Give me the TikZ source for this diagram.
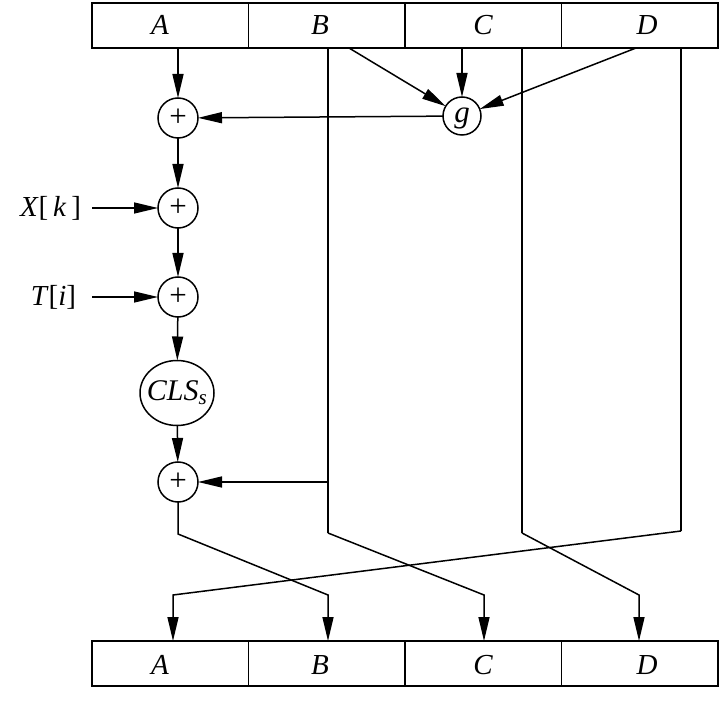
\documentclass[tikz,border=0pt]{standalone}
\usepackage{fontspec}
\setmainfont{Liberation Serif}
\usetikzlibrary{arrows.meta,calc,shapes.geometric}
\begin{document}
\begin{tikzpicture}[x=1pt,y=-1pt,
  every node/.style={inner sep=0pt,outer sep=0pt},
  cell/.style={draw,line width=1.5pt,minimum width=156.5pt,minimum height=45pt},
  lbl/.style={font=\fontsize{29}{32}\selectfont\itshape},
  opc/.style={draw,circle,line width=1.5pt,minimum size=40pt,font=\fontsize{31}{32}\selectfont},
  arr/.style={line width=1.5pt,-{Triangle[length=24pt,width=11pt]}},
  ln/.style={line width=1.5pt}]
\useasboundingbox (0,0) rectangle (723,711);
% top register
\node[cell] (tA) at (170.25,25.5) {};
\node[cell] (tB) at (326.75,25.5) {};
\node[cell] (tC) at (483.25,25.5) {};
\node[cell] (tD) at (639.75,25.5) {};
\node[lbl] (ltA) at (160,25) {A};
\node[lbl] (ltB) at (320,25) {B};
\node[lbl] (ltC) at (483,25) {C};
\node[lbl] (ltD) at (647,25) {D};
% bottom register
\node[cell] (bA) at (170.25,663.5) {};
\node[cell] (bB) at (326.75,663.5) {};
\node[cell] (bC) at (483.25,663.5) {};
\node[cell] (bD) at (639.75,663.5) {};
\node[lbl] (lbA) at (160,665) {A};
\node[lbl] (lbB) at (320,665) {B};
\node[lbl] (lbC) at (483,665) {C};
\node[lbl] (lbD) at (647,665) {D};
% operators
\node[opc] (p1) at (178,118) {+};
\node[opc] (p2) at (178,208) {+};
\node[opc] (p3) at (178,297) {+};
\node[draw,ellipse,line width=1.5pt,minimum width=74pt,minimum height=65pt] (cls) at (177,393) {};
\node[font=\fontsize{30}{32}\selectfont] (clst) at (cls) {\textit{CLS}\textsubscript{\textit{s}}};
\node[opc] (p4) at (178,482) {+};
\node[draw,circle,line width=1.5pt,minimum size=38pt] (g) at (462,116) {};
\node[font=\fontsize{31}{32}\selectfont\itshape,yshift=-3pt] (gt) at (g) {g};
\node[font=\fontsize{29}{32}\selectfont,anchor=east] (xk) at (81,208) {\textit{X}[\,\textit{k}\,]};
\node[font=\fontsize{29}{32}\selectfont,anchor=east] (ti) at (76,297) {\textit{T}[\textit{i}]};
% coordinates
\coordinate (xs) at (92,208);
\coordinate (ts) at (92,297);
\coordinate (bgs) at (349,48);
\coordinate (dgs) at (636,48);
\coordinate (Bt) at (328,48);
\coordinate (Bm) at (328,482);
\coordinate (Bk) at (328,533);
\coordinate (Ct) at (522,48);
\coordinate (Ck) at (522,533);
\coordinate (Dt) at (681,48);
\coordinate (Dk) at (681,531);
\coordinate (Ak) at (178,534);
\coordinate (Ae) at (328,595);
\coordinate (Be) at (484,595);
\coordinate (Ce) at (639,595);
\coordinate (De) at (173,595);
% connectors
\draw[arr] (tA.south -| p1) -- (p1);
\draw[arr] (bgs) -- (g);
\draw[arr] (tC.south -| g) -- (g);
\draw[arr] (dgs) -- (g);
\draw[arr] (g) -- (p1);
\draw[arr] (p1) -- (p2);
\draw[arr] (xs) -- (p2);
\draw[arr] (p2) -- (p3);
\draw[arr] (ts) -- (p3);
\draw[arr] (p3) -- (cls);
\draw[arr] (cls) -- (p4);
\draw[arr] (Bm) -- (p4);
\draw[ln] (Bt) -- (Bk);
\draw[ln] (Ct) -- (Ck);
\draw[ln] (Dt) -- (Dk);
\draw[arr] (p4) -- (Ak) -- (Ae) -- (Ae |- bB.north);
\draw[arr] (Bk) -- (Be) -- (Be |- bC.north);
\draw[arr] (Ck) -- (Ce) -- (Ce |- bD.north);
\draw[arr] (Dk) -- (De) -- (De |- bA.north);
\end{tikzpicture}
\end{document}
